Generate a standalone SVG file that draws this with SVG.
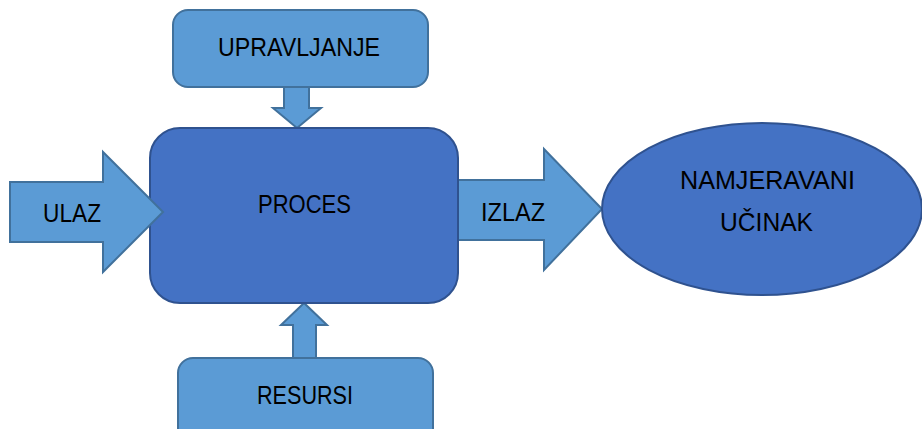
<svg xmlns="http://www.w3.org/2000/svg" width="922" height="429" viewBox="0 0 922 429">
<style>
.light{fill:#5B9BD5;stroke:#41719C;stroke-width:2}
.dark{fill:#4472C4;stroke:#2F528F;stroke-width:2}
.t{font-family:"Liberation Sans",Arial,sans-serif;font-size:26px;fill:#000}
</style>
<rect width="922" height="429" fill="#fff"/>
<g id="connectors">
<path class="light" d="M297,128 L273,108 L284,108 L284,87 L309,87 L309,108 L321,108 Z"/>
<path class="light" d="M304,303 L281,325 L293,325 L293,358 L316,358 L316,325 L327,325 Z"/>
</g>
<g id="izlaz">
<path class="light" d="M456,180 L544,180 L544,149 L602,209 L544,270 L544,240 L456,240 Z"/>
<text class="t" x="481" y="221" textLength="64" lengthAdjust="spacingAndGlyphs">IZLAZ</text>
</g>
<g id="proces">
<rect class="dark" x="150" y="128" width="308" height="175" rx="30"/>
<text class="t" x="258" y="213" textLength="93" lengthAdjust="spacingAndGlyphs">PROCES</text>
</g>
<g id="ulaz">
<path class="light" d="M10,182 L103,182 L103,152 L163,212 L103,272 L103,242 L10,242 Z"/>
<text class="t" x="43" y="222" textLength="58" lengthAdjust="spacingAndGlyphs">ULAZ</text>
</g>
<g id="upravljanje">
<rect class="light" x="173" y="10" width="255" height="77" rx="15"/>
<text class="t" x="218" y="56" textLength="162" lengthAdjust="spacingAndGlyphs">UPRAVLJANJE</text>
</g>
<g id="resursi">
<rect class="light" x="178" y="358" width="255" height="90" rx="15"/>
<text class="t" x="257" y="404" textLength="96" lengthAdjust="spacingAndGlyphs">RESURSI</text>
</g>
<g id="namjeravani">
<ellipse class="dark" cx="762" cy="209" rx="160" ry="86"/>
<text class="t" x="680" y="189" textLength="175" lengthAdjust="spacingAndGlyphs">NAMJERAVANI</text>
<text class="t" x="720" y="231" textLength="93" lengthAdjust="spacingAndGlyphs">UČINAK</text>
</g>
</svg>
